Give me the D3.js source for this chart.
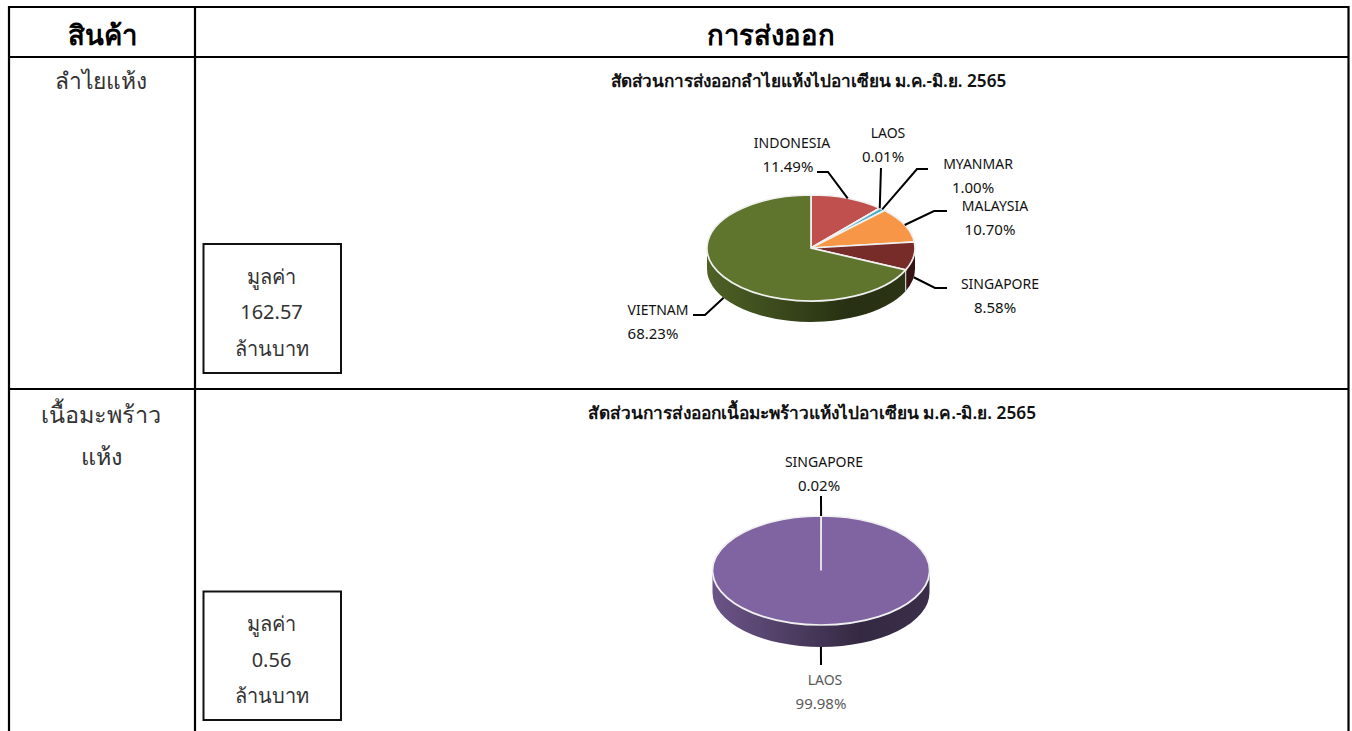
<!DOCTYPE html>
<html>
<head>
<meta charset="utf-8">
<script src="https://cdn.jsdelivr.net/npm/d3@7"></script>
<style>
  html, body { margin: 0; padding: 0; background: #fff; }
  svg { display: block; }
  text { font-family: "Noto Sans", "Open Sans", sans-serif; }
</style>
</head>
<body>
<svg id="chart" width="1352" height="731"></svg>
<script>
// values
const longanCountries = ["INDONESIA", "LAOS", "MYANMAR", "MALAYSIA", "SINGAPORE", "VIETNAM"];
const longanShares = [11.49, 0.01, 1.00, 10.70, 8.58, 68.23];
const longanColors = ["#c0504d", "#c0504d", "#4bacc6", "#f79646", "#772c2a", "#5f752d"];

const coconutCountries = ["SINGAPORE", "LAOS"];
const coconutShares = [0.02, 99.98];
const coconutColors = ["#8064a2", "#8064a2"];

const headers = ["สินค้า", "การส่งออก"];

// label layout: elbow of the leader line, end of the leader line, centre of the two text rows
const longanLabels = [
  {elbow: [828, 172], end: [817, 172], name: [792, 143], pct: [788, 167]},
  {elbow: [881, 168], end: [881, 168], name: [888, 133], pct: [883, 157]},
  {elbow: [917, 169], end: [928, 169], name: [978, 164], pct: [973, 188]},
  {elbow: [934, 211], end: [947, 211], name: [995, 206], pct: [990, 230]},
  {elbow: [935, 288], end: [947, 288], name: [1000, 284], pct: [995, 308]},
  {elbow: [705, 315], end: [693, 315], name: [658, 310], pct: [653, 334]}
];
const coconutLabels = [
  {elbow: [821, 496], end: [821, 496], name: [824, 462], pct: [819, 486]},
  {elbow: [821, 665], end: [821, 665], name: [825, 680], pct: [821, 704]}
];

const svg = d3.select("#chart");

// table grid
const lineColor = "#000";
const gridLines = [
  [9, 7, 1348.5, 7], [9, 57, 1348.5, 57], [9, 389, 1348.5, 389],
  [9, 6, 9, 731], [195, 6, 195, 731], [1348.5, 6, 1348.5, 731]
];
svg.append("g").selectAll("line")
  .data(gridLines)
  .join("line")
  .attr("x1", d => d[0]).attr("y1", d => d[1])
  .attr("x2", d => d[2]).attr("y2", d => d[3])
  .attr("stroke", lineColor)
  .attr("stroke-width", 2.2);

// header row
svg.append("text").attr("x", 102).attr("y", 45).attr("text-anchor", "middle")
  .attr("font-size", 27.5).attr("font-weight", 700).attr("fill", "#000").text(headers[0]);
svg.append("text").attr("x", 770.5).attr("y", 45).attr("text-anchor", "middle")
  .attr("font-size", 27.5).attr("font-weight", 700).attr("fill", "#000").text(headers[1]);

// product names
function productName(lines, ys, size) {
  lines.forEach((t, i) => {
    svg.append("text").attr("x", 101).attr("y", ys[i]).attr("text-anchor", "middle")
      .attr("font-size", size).attr("fill", "#333").text(t);
  });
}
productName(["ลำไยแห้ง"], [89], 22.8);
productName(["เนื้อมะพร้าว", "แห้ง"], [423, 465], 23.4);

// value boxes
function valueBox(y, h, value, ys) {
  svg.append("rect").attr("x", 203.5).attr("y", y).attr("width", 137.5).attr("height", h)
    .attr("fill", "#fff").attr("stroke", "#111").attr("stroke-width", 2);
  ["มูลค่า", value, "ล้านบาท"].forEach((t, i) => {
    svg.append("text").attr("x", 271.5).attr("y", ys[i]).attr("text-anchor", "middle")
      .attr("font-size", 20).attr("fill", "#333").text(t);
  });
}
valueBox(244, 129, "162.57", [284, 319, 356]);
valueBox(591.5, 128.5, "0.56", [631, 667, 703]);

// titles
svg.append("text").attr("x", 808.5).attr("y", 87).attr("text-anchor", "middle")
  .attr("font-size", 17.2).attr("font-weight", 600).attr("fill", "#111")
  .text("สัดส่วนการส่งออกลำไยแห้งไปอาเซียน ม.ค.-มิ.ย. 2565");
svg.append("text").attr("x", 812).attr("y", 419).attr("text-anchor", "middle")
  .attr("font-size", 17.3).attr("font-weight", 600).attr("fill", "#111")
  .text("สัดส่วนการส่งออกเนื้อมะพร้าวแห้งไปอาเซียน ม.ค.-มิ.ย. 2565");

// flat 3d pie: top face is a squashed d3.arc, the wall is drawn under it
function drawPie(cfg) {
  const g = svg.append("g");
  const rows = cfg.shares.map((v, i) => ({name: cfg.names[i], value: v, color: cfg.colors[i], label: cfg.labels[i]}));
  const arcs = d3.pie().sort(null).value(d => d.value)(rows);
  const cx = cfg.cx, cy = cfg.cy, rx = cfg.rx, ry = cfg.ry, depth = cfg.depth;
  const px = a => cx + rx * Math.sin(a);
  const py = a => cy - ry * Math.cos(a);

  // wall, only the front half shows
  const defs = svg.append("defs");
  arcs.forEach((d, i) => {
    const a0 = Math.max(d.startAngle, Math.PI / 2);
    const a1 = Math.min(d.endAngle, Math.PI * 1.5);
    if (a1 <= a0) return;
    const id = cfg.id + "-wall-" + i;
    const c = d3.color(d.data.color);
    const grad = defs.append("linearGradient").attr("id", id)
      .attr("gradientUnits", "userSpaceOnUse")
      .attr("x1", cx - rx).attr("x2", cx + rx).attr("y1", 0).attr("y2", 0);
    grad.append("stop").attr("offset", 0).attr("stop-color", c.darker(0.5));
    grad.append("stop").attr("offset", 0.68).attr("stop-color", c.darker(2.5));
    grad.append("stop").attr("offset", 1).attr("stop-color", c.darker(2.2));
    const large = a1 - a0 > Math.PI ? 1 : 0;
    g.append("path")
      .attr("d", `M${px(a0)},${py(a0)}A${rx},${ry} 0 ${large} 1 ${px(a1)},${py(a1)}` +
        `L${px(a1)},${py(a1) + depth}A${rx},${ry} 0 ${large} 0 ${px(a0)},${py(a0) + depth}Z`)
      .attr("fill", `url(#${id})`);
    if (d.startAngle >= Math.PI / 2) {
      g.append("line")
        .attr("x1", px(a0)).attr("y1", py(a0))
        .attr("x2", px(a0)).attr("y2", py(a0) + depth)
        .attr("stroke", "#e8e8e8").attr("stroke-width", 1);
    }
  });

  // top face
  const arc = d3.arc().innerRadius(0).outerRadius(rx);
  g.append("g")
    .attr("transform", `translate(${cx},${cy}) scale(1,${ry / rx})`)
    .selectAll("path")
    .data(arcs)
    .join("path")
    .attr("d", arc)
    .attr("fill", d => d.data.color)
    .attr("stroke", "#f0f0f0")
    .attr("stroke-width", 1.7)
    .attr("vector-effect", "non-scaling-stroke");

  // leader lines start on the rim at each slice's middle angle
  arcs.forEach(d => {
    const mid = (d.startAngle + d.endAngle) / 2;
    const front = mid > Math.PI / 2 && mid < Math.PI * 1.5;
    const sx = px(mid), sy = py(mid) + (front ? depth : 0);
    const l = d.data.label;
    g.append("path")
      .attr("d", d3.line()([[sx, sy], l.elbow, l.end]))
      .attr("fill", "none").attr("stroke", "#000").attr("stroke-width", 2);
    const color = cfg.labelColors ? cfg.labelColors[d.index] : "#111";
    g.append("text").attr("x", l.name[0]).attr("y", l.name[1]).attr("dy", "0.35em")
      .attr("text-anchor", "middle").attr("font-size", 14).attr("fill", color).text(d.data.name);
    g.append("text").attr("x", l.pct[0]).attr("y", l.pct[1]).attr("dy", "0.35em")
      .attr("text-anchor", "middle").attr("font-size", 15).attr("fill", color)
      .text(d.data.value.toFixed(2) + "%");
  });
}

drawPie({id: "longan", names: longanCountries, shares: longanShares, colors: longanColors,
  labels: longanLabels, cx: 811, cy: 248, rx: 104, ry: 53, depth: 21});
drawPie({id: "coconut", names: coconutCountries, shares: coconutShares, colors: coconutColors,
  labels: coconutLabels, labelColors: ["#111", "#595959"], cx: 821, cy: 570.5, rx: 108.5, ry: 54.5, depth: 22});
</script>
</body>
</html>
